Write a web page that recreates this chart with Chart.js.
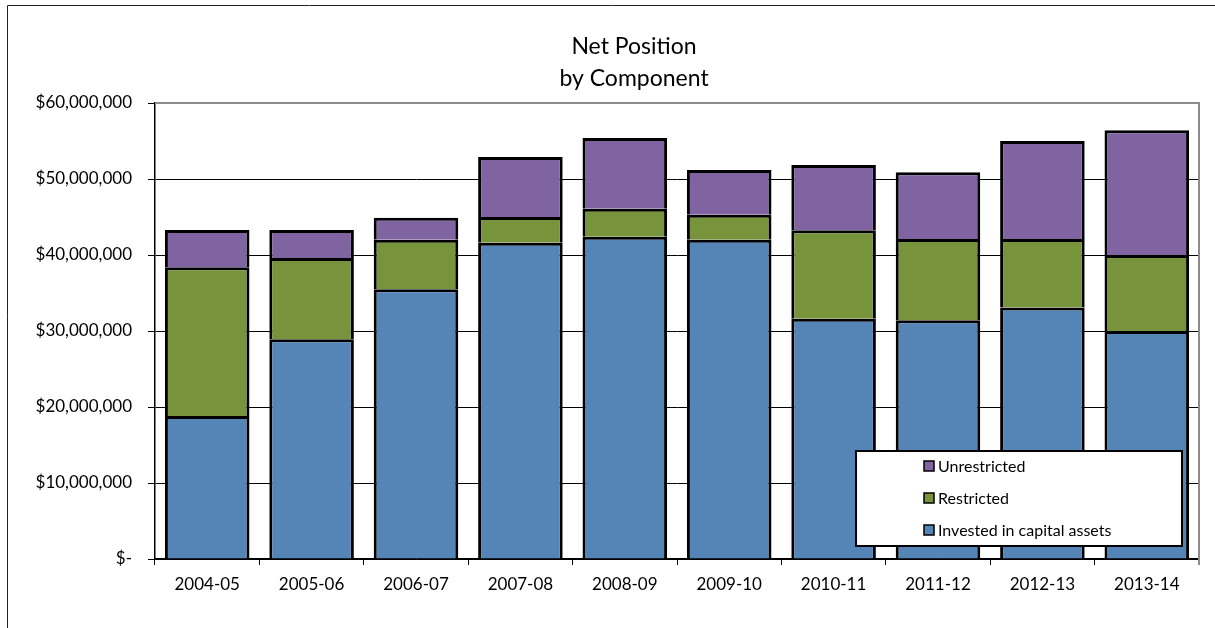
<!DOCTYPE html>
<html>
<head>
<meta charset="utf-8">
<script src="https://cdn.jsdelivr.net/npm/chart.js@4"></script>
<style>
  html, body { margin: 0; padding: 0; background: #fff; overflow: hidden; }
</style>
</head>
<body>
<canvas id="netChart" width="1215" height="628"></canvas>
<script>
const years = ['2004-05', '2005-06', '2006-07', '2007-08', '2008-09', '2009-10', '2010-11', '2011-12', '2012-13', '2013-14'];
const invested = [18800000, 28900000, 35500000, 41600000, 42400000, 42000000, 31600000, 31400000, 33100000, 30000000];
const restricted = [19600000, 10700000, 6500000, 3400000, 3700000, 3300000, 11650000, 10700000, 9000000, 10000000];
const unrestricted = [4900000, 3700000, 2900000, 7900000, 9300000, 5900000, 8600000, 8800000, 12900000, 16400000];
const yMax = 60000000;
const yStep = 10000000;
const titleLines = ['Net Position', 'by Component'];

const FONT = 'Lato, "Liberation Sans", sans-serif';

// outer frame + plot border
const framePlugin = {
  id: 'frame',
  beforeDraw(chart) {
    const ctx = chart.ctx;
    ctx.save();
    ctx.strokeStyle = '#222';
    ctx.lineWidth = 1;
    ctx.beginPath();
    ctx.moveTo(7.5, chart.height);
    ctx.lineTo(7.5, 5.5);
    ctx.lineTo(chart.width, 5.5);
    ctx.stroke();
    ctx.restore();
  },
  beforeDatasetsDraw(chart) {
    const { ctx, chartArea: a } = chart;
    ctx.save();
    ctx.strokeStyle = '#8c8c8c';
    ctx.lineWidth = 2;
    ctx.beginPath();
    ctx.moveTo(a.left, a.top);
    ctx.lineTo(a.right, a.top);
    ctx.lineTo(a.right, a.bottom + 6);
    ctx.stroke();
    ctx.restore();
  }
};

// two line title, drawn by hand so it can sit off-centre like the original
const titlePlugin = {
  id: 'twoLineTitle',
  afterDraw(chart) {
    const ctx = chart.ctx;
    ctx.save();
    ctx.fillStyle = '#000';
    ctx.font = '23px ' + FONT;
    ctx.textAlign = 'center';
    ctx.textBaseline = 'middle';
    titleLines.forEach((t, i) => ctx.fillText(t, 634, 47 + i * 32));
    ctx.restore();
  }
};

// boxed legend inside the plot, bottom-right
const boxLegend = {
  id: 'boxLegend',
  afterDraw(chart) {
    const { ctx, chartArea: a } = chart;
    const w = 326, h = 95;
    const x = a.right - 17 - w, y = a.bottom - 13 - h;
    ctx.save();
    ctx.fillStyle = '#fff';
    ctx.fillRect(x, y, w, h);
    ctx.strokeStyle = '#000';
    ctx.lineWidth = 2;
    ctx.strokeRect(x, y, w, h);
    ctx.font = '16px ' + FONT;
    ctx.textBaseline = 'middle';
    const sets = chart.data.datasets.slice().reverse();
    sets.forEach((ds, i) => {
      const cy = y + 15 + i * 32;
      ctx.fillStyle = ds.backgroundColor;
      ctx.fillRect(x + 68, cy - 5, 10, 10);
      ctx.lineWidth = 1.5;
      ctx.strokeStyle = '#000';
      ctx.strokeRect(x + 68, cy - 5, 10, 10);
      ctx.fillStyle = '#000';
      ctx.fillText(ds.label, x + 82, cy + 1);
    });
    ctx.restore();
  }
};

const barStyle = {
  borderColor: '#000',
  borderWidth: { top: 3, left: 3, right: 3, bottom: 0 },
  borderSkipped: false,
  categoryPercentage: 1,
  barPercentage: 0.81
};

new Chart(document.getElementById('netChart'), {
  type: 'bar',
  data: {
    labels: years,
    datasets: [
      Object.assign({ label: 'Invested in capital assets', data: invested, backgroundColor: '#5585b6' }, barStyle),
      Object.assign({ label: 'Restricted', data: restricted, backgroundColor: '#77933c' }, barStyle),
      Object.assign({ label: 'Unrestricted', data: unrestricted, backgroundColor: '#8064a2' }, barStyle)
    ]
  },
  options: {
    responsive: false,
    animation: false,
    layout: { padding: { top: 103, right: 16, left: 0, bottom: 0 } },
    plugins: {
      legend: { display: false },
      title: { display: false },
      tooltip: { enabled: false }
    },
    scales: {
      x: {
        stacked: true,
        afterFit(scale) { scale.height = 69; },
        grid: { drawOnChartArea: false, color: '#000', tickLength: 6, offset: true },
        border: { color: '#000', width: 1.5 },
        ticks: { color: '#000', font: { family: FONT, size: 17 }, padding: 9 }
      },
      y: {
        stacked: true,
        min: 0,
        max: yMax,
        afterFit(scale) { scale.width = 155; },
        grid: { color: '#000', lineWidth: 1, tickLength: 7 },
        border: { color: '#000', width: 1.5 },
        ticks: {
          stepSize: yStep,
          color: '#000',
          padding: 16,
          font: { family: FONT, size: 17 },
          callback: v => v === 0 ? '$-' : '$' + v.toLocaleString('en-US')
        }
      }
    }
  },
  plugins: [framePlugin, titlePlugin, boxLegend]
});
</script>
</body>
</html>
